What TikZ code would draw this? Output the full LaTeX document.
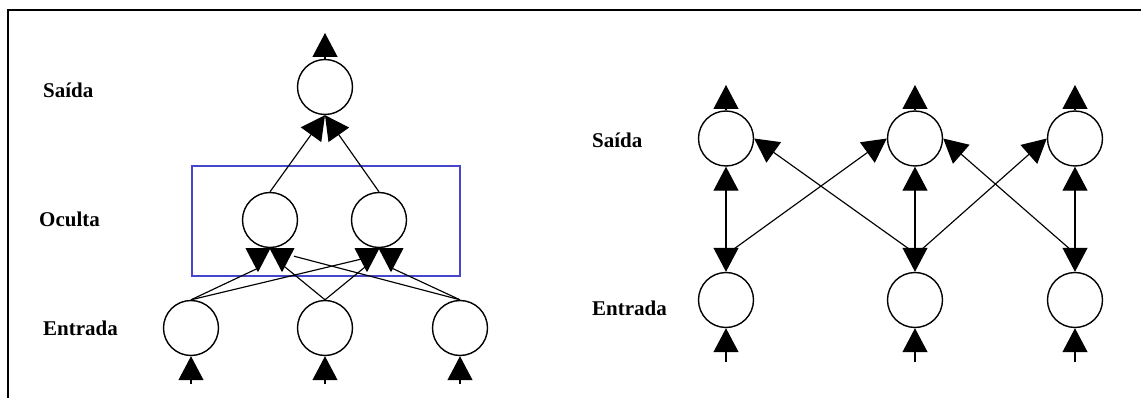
\documentclass[tikz,border=0pt]{standalone}
\usepackage{fontspec}
\setmainfont{Liberation Serif}
\usetikzlibrary{arrows.meta,calc}
\definecolor{boxblue}{RGB}{70,70,205}
\begin{document}
\begin{tikzpicture}[x=1pt,y=-1pt,
  neuron/.style={circle,draw,line width=1.4pt,minimum size=55pt,inner sep=0pt},
  link/.style={line width=1.15pt},
  arrowup/.style={-{Triangle[length=24pt,width=25pt]}},
  twoway/.style={{Triangle[length=24pt,width=25pt]}-{Triangle[length=24pt,width=25pt]}},
  layer/.style={font=\fontsize{21}{24}\selectfont\bfseries,anchor=base west,inner sep=0pt},
  headfill/.style={fill=black},
]
\useasboundingbox (0,0) rectangle (1141,398);

% outer frame (top and left edges)
\draw[line width=2pt] (8,398) -- (8,10) -- (1141,10);

% ---------- left network: input, hidden, output ----------
\node[layer] (lsai) at (43,98) {Saída};
\node[layer] (loc) at (39,227) {Oculta};
\node[layer] (lent) at (43,335) {Entrada};

\node[neuron] (out) at (325,87) {};
\node[neuron] (h1) at (270,220) {};
\node[neuron] (h2) at (379,220) {};
\node[neuron] (i1) at (191,328) {};
\node[neuron] (i2) at (325,328) {};
\node[neuron] (i3) at (460,328) {};

% hidden layer box
\draw[boxblue,line width=1.4pt] (192,166) rectangle (460,276);

\coordinate (otop) at (325,33);
\coordinate (b1) at (191,384);
\coordinate (b2) at (325,384);
\coordinate (b3) at (460,384);

\draw[link,arrowup] (out.north) -- (otop);
\draw[link,arrowup] (h1.north) -- (out.south);
\draw[link,arrowup] (h2.north) -- (out.south);
\draw[link,arrowup] (b1) -- (i1.south);
\draw[link,arrowup] (b2) -- (i2.south);
\draw[link,arrowup] (b3) -- (i3.south);

% input to hidden connections
\draw[link] (i1.north) -- ($(h1.south)+(-12,20)$);
\draw[link] (i1.north) -- ($(h2.south)+(-14,10)$);
\draw[link] (i2.north) -- ($(h1.south)+(14,18)$);
\draw[link] (i2.north) -- ($(h2.south)+(-13,18)$);
\draw[link] (i3.north) -- ($(h1.south)+(24,8)$);
\draw[link] (i3.north) -- ($(h2.south)+(13,20)$);

% heads under the hidden neurons
\fill[headfill] ($(h1.south)+(-24.5,0)$) -- ++(25,0) -- ++(-12.5,24) -- cycle;
\fill[headfill] ($(h1.south)+(-0.5,0)$) -- ++(25,0) -- ++(-12.5,24) -- cycle;
\fill[headfill] ($(h2.south)+(-24.5,0)$) -- ++(25,0) -- ++(-12.5,24) -- cycle;
\fill[headfill] ($(h2.south)+(-0.5,0)$) -- ++(25,0) -- ++(-12.5,24) -- cycle;

% ---------- right network: input and output ----------
\node[layer] (rsai) at (592,148) {Saída};
\node[layer] (rent) at (592,315) {Entrada};

\node[neuron] (o1) at (726,138.5) {};
\node[neuron] (o2) at (915,138.5) {};
\node[neuron] (o3) at (1075,138.5) {};
\node[neuron] (e1) at (726,300) {};
\node[neuron] (e2) at (915,300) {};
\node[neuron] (e3) at (1075,300) {};

\coordinate (t1) at (726,85);
\coordinate (t2) at (915,85);
\coordinate (t3) at (1075,85);
\coordinate (u1) at (726,362);
\coordinate (u2) at (915,362);
\coordinate (u3) at (1075,362);

\draw[link,arrowup] (o1.north) -- (t1);
\draw[link,arrowup] (o2.north) -- (t2);
\draw[link,arrowup] (o3.north) -- (t3);
\draw[link,arrowup] (u1) -- (e1.south);
\draw[link,arrowup] (u2) -- (e2.south);
\draw[link,arrowup] (u3) -- (e3.south);

\draw[link,twoway] (o1.south) -- (e1.north);
\draw[link,twoway] (o2.south) -- (e2.north);
\draw[link,twoway] (o3.south) -- (e3.north);

% crossing connections
\draw[link,arrowup] ($(e1.north)+(4,-20)$) -- (o2.west);
\draw[link,arrowup] ($(e2.north)+(-2,-20)$) -- (o1.east);
\draw[link,arrowup] ($(e2.north)+(4,-20)$) -- (o3.west);
\draw[link,arrowup] ($(e3.north)+(-2,-20)$) -- (o2.east);
\end{tikzpicture}
\end{document}
